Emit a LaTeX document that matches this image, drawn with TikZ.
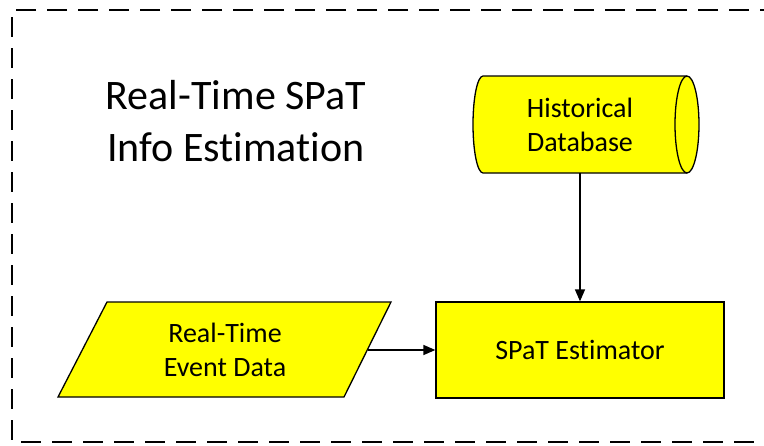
\documentclass[tikz,border=0pt]{standalone}
\usepackage{fontspec}
\setmainfont[Ligatures=NoCommon]{Carlito}
\usetikzlibrary{arrows.meta}
\definecolor{boxyellow}{RGB}{255,255,0}
\tikzset{
  shapeline/.style={draw=black, line width=1.3pt, fill=boxyellow},
  arr/.style={draw=black, line width=1.5pt, -{Triangle[length=12pt,width=10pt]}},
  frame/.style={draw=black, line width=2.6pt, dash pattern=on 20pt off 11pt},
  boxtext/.style={font=\fontsize{28pt}{34pt}\selectfont, align=center, inner sep=0pt},
  titletext/.style={font=\fontsize{42pt}{52pt}\selectfont, align=center, inner sep=0pt}
}
\begin{document}
\begin{tikzpicture}[x=1pt,y=1pt]
\useasboundingbox (0,0) rectangle (764,-445);
% dashed frame (right side runs beyond the picture)
\draw[frame] (780,-10) -- (12,-10) -- (12,-442) -- (780,-442);
% title
\node[titletext] (title) at (236,-121) {Real-Time SPaT\\Info Estimation};
% cylinder: historical database
\draw[shapeline] (483,-76) -- (687,-76)
  arc[start angle=90, end angle=-90, x radius=12pt, y radius=48.5pt]
  -- (483,-173)
  arc[start angle=270, end angle=90, x radius=10pt, y radius=48.5pt] -- cycle;
\draw[black, line width=1.3pt] (687,-76)
  arc[start angle=90, end angle=270, x radius=12pt, y radius=48.5pt];
\node[boxtext] (db) at (580,-124.5) {Historical\\Database};
\coordinate (dbB) at (580,-173);
% parallelogram: real-time event data
\draw[shapeline] (107,-302) -- (391,-302) -- (344,-397) -- (58,-397) -- cycle;
\node[boxtext] (ev) at (225,-349.5) {Real-Time\\Event Data};
\coordinate (evR) at (367.5,-350);
% rectangle: SPaT estimator
\node[shapeline, minimum width=288pt, minimum height=96pt, inner sep=0pt,
      font=\fontsize{28pt}{34pt}\selectfont] (est) at (580,-350) {SPaT Estimator};
% connectors
\draw[arr] (dbB) -- (est.north);
\draw[arr] (evR) -- (est.west);
\end{tikzpicture}
\end{document}
